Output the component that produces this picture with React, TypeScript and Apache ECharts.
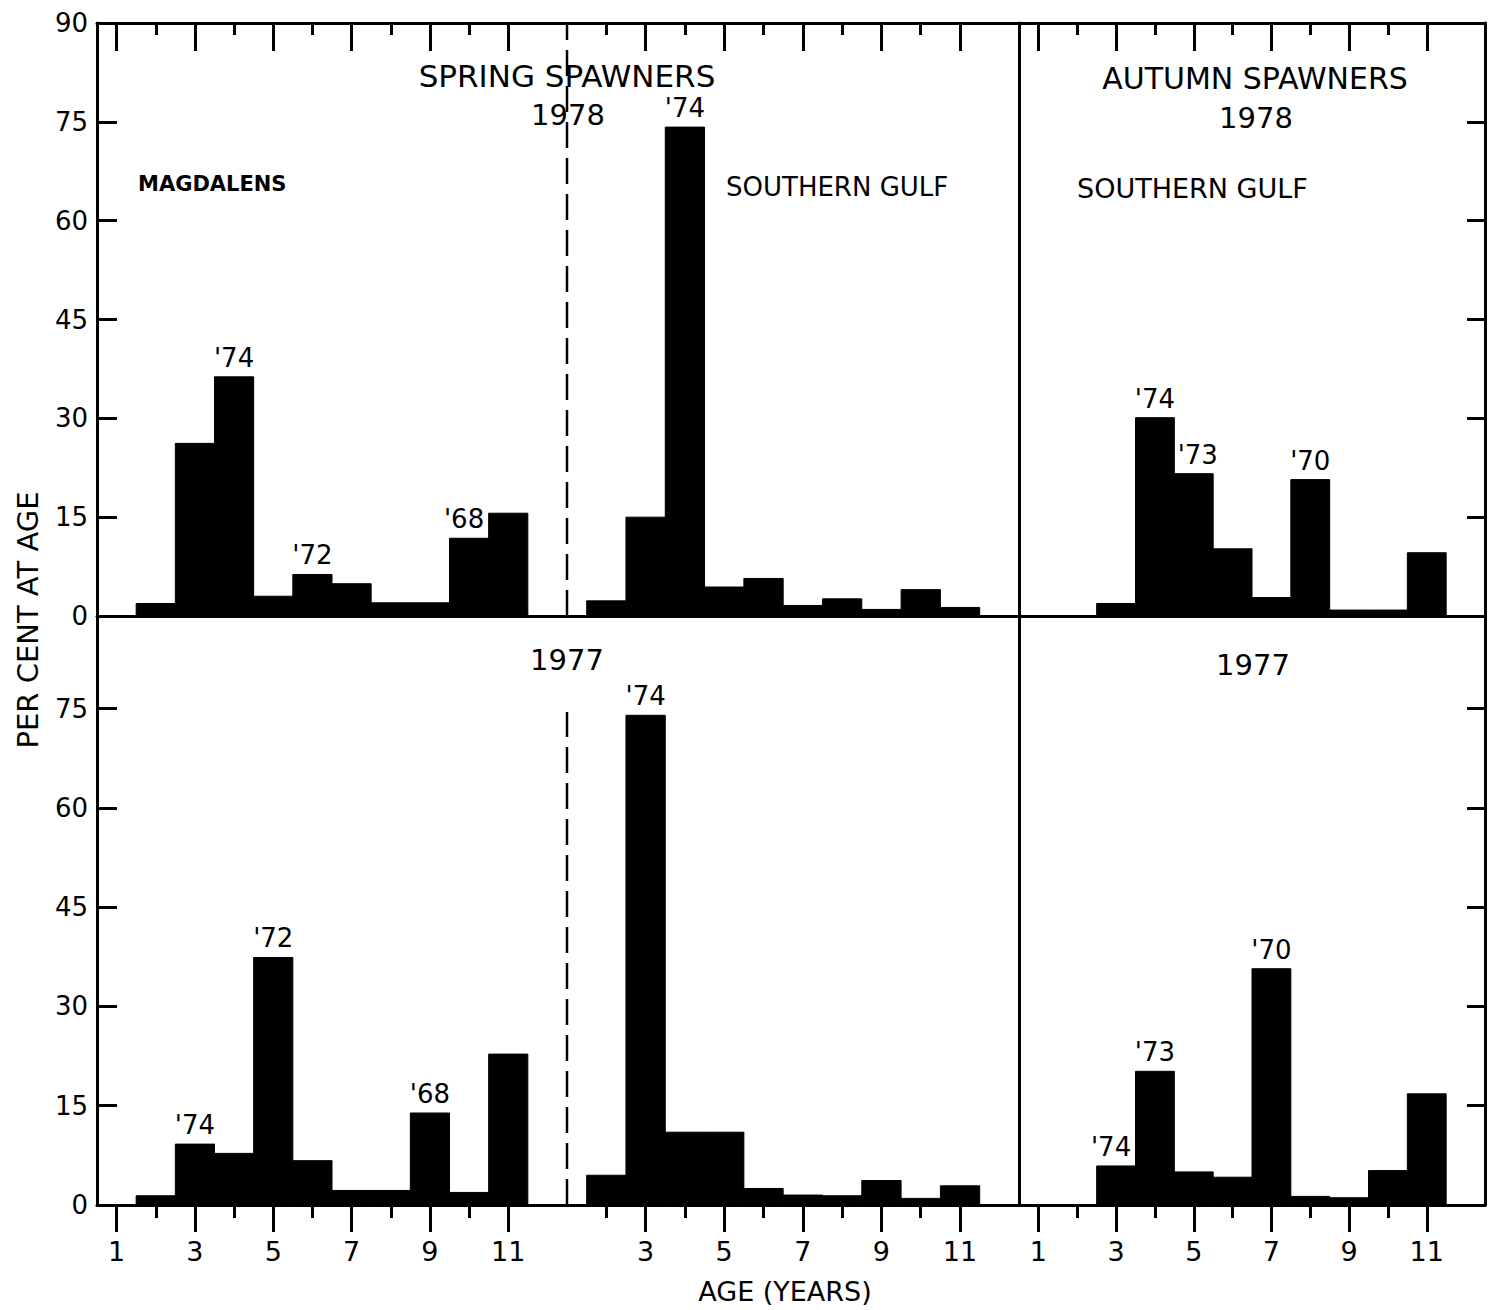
import React, { useEffect, useRef } from 'react';
import * as echarts from 'echarts';

// ---- data (ages 1..12) ----
const ages = [1, 2, 3, 4, 5, 6, 7, 8, 9, 10, 11, 12];
const magdalens1978 = [0, 1.9, 26.2, 36.3, 3.0, 6.3, 4.9, 2.0, 2.0, 11.8, 15.6, 0];
const springGulf1978 = [0, 2.3, 15.0, 74.2, 4.4, 5.7, 1.6, 2.6, 1.0, 4.0, 1.3, 0];
const autumnGulf1978 = [0, 0, 1.9, 30.1, 21.6, 10.2, 2.8, 20.7, 0.9, 0.9, 9.6, 0];
const magdalens1977 = [0, 1.4, 9.2, 7.8, 37.4, 6.7, 2.2, 2.2, 13.9, 1.9, 22.8, 0];
const springGulf1977 = [0, 4.5, 74.0, 11.0, 11.0, 2.5, 1.5, 1.4, 3.7, 1.0, 2.9, 0];
const autumnGulf1977 = [0, 0, 5.9, 20.2, 5.0, 4.2, 35.7, 1.3, 1.1, 5.2, 16.8, 0];

// year-class labels: [age, text]
const magdalens1978Labels: [number, string][] = [[4, "'74"], [6, "'72"], [10, "'68"]];
const springGulf1978Labels: [number, string][] = [[4, "'74"]];
const autumnGulf1978Labels: [number, string][] = [[4, "'74"], [5, "'73"], [8, "'70"]];
const magdalens1977Labels: [number, string][] = [[3, "'74"], [5, "'72"], [9, "'68"]];
const springGulf1977Labels: [number, string][] = [[3, "'74"]];
const autumnGulf1977Labels: [number, string][] = [[3, "'74"], [4, "'73"], [7, "'70"]];

// ticks
const yTicksUpper = [0, 15, 30, 45, 60, 75, 90];
const yTicksLower = [0, 15, 30, 45, 60, 75];
const oddAges = [1, 3, 5, 7, 9, 11];
const gulfOddAges = [3, 5, 7, 9, 11];
const evenAges = [2, 4, 6, 8, 10];

// dashed divider (spring Southern Gulf at age 1)
const dividerAge = 1;
const dividerTopUpper = 90;
const dividerTopLower = 74.5;

const panelValues = [
  [magdalens1978, springGulf1978, autumnGulf1978],
  [magdalens1977, springGulf1977, autumnGulf1977],
];
const panelLabels = [
  [magdalens1978Labels, springGulf1978Labels, autumnGulf1978Labels],
  [magdalens1977Labels, springGulf1977Labels, autumnGulf1977Labels],
];

const FONT = '"DejaVu Sans", sans-serif';

export default function App() {
  const ref = useRef<HTMLDivElement>(null);

  useEffect(() => {
    document.body.style.margin = '0';
    if (!ref.current) return;
    const chart = echarts.init(ref.current, null, { renderer: 'svg' });

    const cols = [
      { left: 97, width: 470, min: 0.5 },
      { left: 567, width: 452, min: 1 },
      { left: 1019, width: 466, min: 0.5 },
    ];
    const rows = [
      { top: 23, height: 593, max: 90 },
      { top: 616, height: 589, max: 89 },
    ];

    const axisLine = { show: true, onZero: false, lineStyle: { color: '#000', width: 3 } };
    const tickStyle = { color: '#000', width: 3 };

    const grid: any[] = [];
    const xAxis: any[] = [];
    const yAxis: any[] = [];
    const series: any[] = [];

    const renderBar = (params: any, api: any) => {
      const a = api.value(0);
      const v = api.value(1);
      if (!v) return null;
      const tl = api.coord([a - 0.5, v]);
      const br = api.coord([a + 0.5, 0]);
      return {
        type: 'rect',
        shape: { x: tl[0], y: tl[1], width: br[0] - tl[0], height: br[1] - tl[1] },
        style: { fill: '#000', stroke: '#000', lineWidth: 1 },
      };
    };

    // label sits above its bar; nudged away from a taller neighbouring bar
    const makeLabelRenderer = (labs: [number, string][], vals: number[]) => (params: any, api: any) => {
      const a = api.value(0);
      const v = api.value(1);
      const item = labs[params.dataIndex];
      const i = ages.indexOf(a);
      const left = i > 0 ? vals[i - 1] : 0;
      const right = i < vals.length - 1 ? vals[i + 1] : 0;
      let dx = 0;
      if (right > v) dx -= 5;
      if (left > v) dx += 4;
      const p = api.coord([a, v]);
      return {
        type: 'text',
        x: p[0] + dx,
        y: p[1] - 6,
        style: {
          text: item ? item[1] : '',
          fill: '#000',
          font: `26px ${FONT}`,
          textAlign: 'center',
          textVerticalAlign: 'bottom',
          align: 'center',
          verticalAlign: 'bottom',
        },
      };
    };

    rows.forEach((row, r) => {
      cols.forEach((col, c) => {
        const g = grid.length;
        grid.push({ left: col.left, top: row.top, width: col.width, height: row.height, containLabel: false });
        const longTicks = c === 1 ? gulfOddAges : oddAges;
        const xBase = {
          type: 'value',
          gridIndex: g,
          min: col.min,
          max: 12.5,
          splitLine: { show: false },
        };
        const mainX = xAxis.length;
        if (r === 0) {
          xAxis.push({
            ...xBase,
            position: 'top',
            axisLine,
            axisTick: { show: true, inside: true, length: 28, customValues: longTicks, lineStyle: tickStyle },
            axisLabel: { show: false },
          });
          xAxis.push({
            ...xBase,
            position: 'top',
            axisLine: { show: false, onZero: false },
            axisTick: { show: true, inside: true, length: 12, customValues: evenAges, lineStyle: tickStyle },
            axisLabel: { show: false },
          });
          xAxis.push({
            ...xBase,
            position: 'bottom',
            axisLine,
            axisTick: { show: false },
            axisLabel: { show: false },
          });
        } else {
          xAxis.push({
            ...xBase,
            position: 'bottom',
            axisLine,
            axisTick: { show: true, inside: false, length: 27, customValues: longTicks, lineStyle: tickStyle },
            axisLabel: {
              show: true,
              customValues: longTicks,
              margin: 33,
              color: '#000',
              fontFamily: FONT,
              fontSize: 27,
            },
          });
          xAxis.push({
            ...xBase,
            position: 'bottom',
            axisLine: { show: false, onZero: false },
            axisTick: { show: true, inside: false, length: 13, customValues: evenAges, lineStyle: tickStyle },
            axisLabel: { show: false },
          });
        }

        const yTickVals = r === 0 ? yTicksUpper : yTicksLower;
        const yBase = {
          type: 'value',
          gridIndex: g,
          min: 0,
          max: row.max,
          splitLine: { show: false },
        };
        const mainY = yAxis.length;
        if (c === 0) {
          yAxis.push({
            ...yBase,
            position: 'left',
            axisLine,
            axisTick: { show: true, inside: true, length: 20, customValues: yTickVals, lineStyle: tickStyle },
            axisLabel: {
              show: true,
              customValues: yTickVals,
              margin: 9,
              color: '#000',
              fontFamily: FONT,
              fontSize: 26,
            },
          });
        } else if (c === 1) {
          yAxis.push({ ...yBase, show: false });
        } else {
          yAxis.push({
            ...yBase,
            position: 'left',
            axisLine,
            axisTick: { show: false },
            axisLabel: { show: false },
          });
          yAxis.push({
            ...yBase,
            position: 'right',
            axisLine,
            axisTick: { show: true, inside: true, length: 18, customValues: yTickVals, lineStyle: tickStyle },
            axisLabel: { show: false },
          });
        }

        const vals = panelValues[r][c];
        series.push({
          type: 'custom',
          xAxisIndex: mainX,
          yAxisIndex: mainY,
          renderItem: renderBar,
          clip: true,
          silent: true,
          z: 3,
          data: ages.map((a, i) => [a, vals[i]]),
        });
        const labs = panelLabels[r][c];
        series.push({
          type: 'custom',
          xAxisIndex: mainX,
          yAxisIndex: mainY,
          renderItem: makeLabelRenderer(labs, vals),
          silent: true,
          z: 4,
          data: labs.map(([a]) => [a, vals[ages.indexOf(a)]]),
        });
        if (c === 1) {
          series.push({
            type: 'line',
            xAxisIndex: mainX,
            yAxisIndex: mainY,
            symbol: 'none',
            silent: true,
            z: 2,
            lineStyle: { color: '#000', width: 2.5, type: [26, 10] },
            data: [
              [dividerAge, 0],
              [dividerAge, r === 0 ? dividerTopUpper : dividerTopLower],
            ],
          });
        }
      });
    });

    const txt = (text: string, x: number, y: number, size: number, align = 'center', weight = 'normal', rotation = 0) => ({
      type: 'text',
      x,
      y,
      rotation,
      z: 10,
      style: {
        text,
        fill: '#000',
        font: `${weight} ${size}px ${FONT}`,
        textAlign: align,
        textVerticalAlign: 'middle',
        align,
        verticalAlign: 'middle',
      },
    });

    const graphic = [
      txt('SPRING SPAWNERS', 567, 76, 31),
      txt('1978', 568, 115, 29),
      txt('AUTUMN SPAWNERS', 1255, 78, 30),
      txt('1978', 1256, 118, 29),
      txt('MAGDALENS', 138, 184, 21, 'left', 'bold'),
      txt('SOUTHERN GULF', 726, 187, 26, 'left'),
      txt('SOUTHERN GULF', 1077, 188, 27, 'left'),
      txt('1977', 567, 660, 29),
      txt('1977', 1253, 665, 29),
      txt('PER CENT AT AGE', 28, 620, 29, 'center', 'normal', Math.PI / 2),
      txt('AGE (YEARS)', 785, 1291, 27),
    ];

    chart.setOption({
      animation: false,
      backgroundColor: '#fff',
      grid,
      xAxis,
      yAxis,
      series,
      graphic,
    });

    return () => chart.dispose();
  }, []);

  return <div ref={ref} style={{ width: 1488, height: 1310 }} />;
}
